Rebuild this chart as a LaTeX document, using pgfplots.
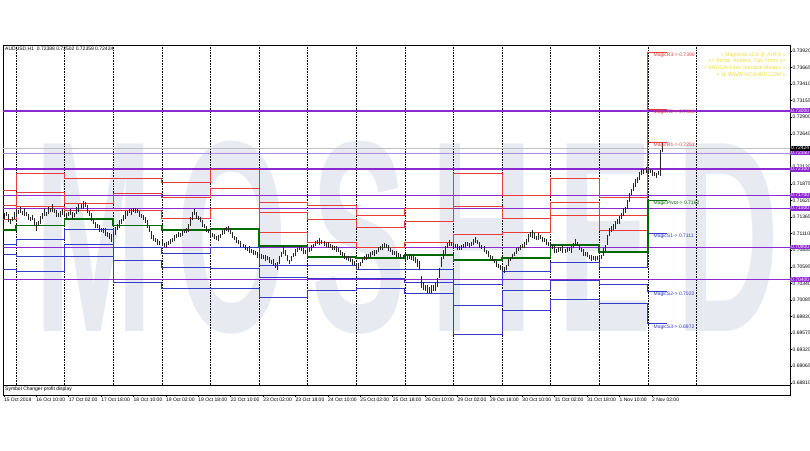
\documentclass[border=0pt]{standalone}
\usepackage{pgfplots}
\pgfplotsset{compat=1.18}
\usepackage{pgfplotstable}
\usepackage{graphicx}
\usepackage{fontspec}
\setmainfont{Liberation Sans}

\definecolor{rline}{RGB}{232,60,60}
\definecolor{sline}{RGB}{50,60,200}
\definecolor{pivg}{RGB}{0,105,0}
\definecolor{purp}{RGB}{140,40,210}
\definecolor{lav}{RGB}{175,140,225}
\definecolor{wmark}{RGB}{232,234,242}
\definecolor{yel}{RGB}{238,222,60}
\newcommand\tf{\fontsize{5}{6}\selectfont}

% daily pivot levels (start bar of each day, bars counted in hours from 16 Oct 00:00)
\pgfplotstableread{
b R3 R2 R1 P S1 S2 S3
-8 0.7178 0.7155 0.7132 0.7116 0.7095 0.7079 0.7056
0 0.7204 0.7175 0.7152 0.7123 0.7102 0.7075 0.7052
24 0.7196 0.7158 0.7147 0.7133 0.7118 0.7095 0.7076
48 0.7196 0.7173 0.7147 0.7123 0.7090 0.7070 0.7035
72 0.7189 0.7166 0.7135 0.7116 0.7081 0.7059 0.7027
96 0.7209 0.7181 0.7150 0.7118 0.7089 0.7058 0.7027
120 0.7159 0.7143 0.7112 0.7092 0.7062 0.7044 0.7013
144 0.7155 0.7132 0.7098 0.7075 0.7062 0.7042 0.7024
168 0.7139 0.7121 0.7090 0.7073 0.7055 0.7042 0.7027
192 0.7150 0.7129 0.7098 0.7078 0.7055 0.7036 0.7019
216 0.7204 0.7152 0.7109 0.7070 0.7032 0.7001 0.6955
240 0.7170 0.7135 0.7113 0.7073 0.7052 0.7024 0.6993
264 0.7196 0.7159 0.7139 0.7093 0.7066 0.7039 0.7009
288 0.7166 0.7139 0.7116 0.7082 0.7059 0.7032 0.7004
312 0.7390 0.7302 0.7251 0.7162 0.7111 0.7022 0.6972
321.5 0.7390 0.7302 0.7251 0.7162 0.7111 0.7022 0.6972
}\piv

% H1 bars: bar, low, high
\pgfplotstableread{
b lo hi
-6 0.7133 0.7143
-5 0.7138 0.7144
-4 0.7129 0.7141
-3 0.7126 0.7134
-2 0.7130 0.7136
-1 0.7134 0.7144
0 0.7136 0.7148
1 0.7141 0.7147
2 0.7142 0.7152
3 0.7139 0.7145
4 0.7138 0.7150
5 0.7138 0.7144
6 0.7131 0.7141
7 0.7130 0.7136
8 0.7131 0.7139
9 0.7123 0.7135
10 0.7115 0.7129
11 0.7122 0.7130
12 0.7126 0.7138
13 0.7134 0.7142
14 0.7138 0.7150
15 0.7138 0.7144
16 0.7141 0.7151
17 0.7144 0.7150
18 0.7144 0.7156
19 0.7143 0.7149
20 0.7137 0.7147
21 0.7136 0.7142
22 0.7137 0.7145
23 0.7139 0.7149
24 0.7139 0.7145
25 0.7133 0.7143
26 0.7138 0.7144
27 0.7140 0.7148
28 0.7134 0.7144
29 0.7136 0.7142
30 0.7141 0.7151
31 0.7144 0.7156
32 0.7148 0.7156
33 0.7149 0.7161
34 0.7151 0.7159
35 0.7143 0.7155
36 0.7138 0.7146
37 0.7130 0.7142
38 0.7126 0.7134
39 0.7119 0.7129
40 0.7119 0.7125
41 0.7114 0.7124
42 0.7113 0.7119
43 0.7111 0.7119
44 0.7107 0.7119
45 0.7106 0.7114
46 0.7102 0.7112
47 0.7098 0.7110
48 0.7105 0.7113
49 0.7109 0.7121
50 0.7117 0.7125
51 0.7120 0.7132
52 0.7126 0.7134
53 0.7130 0.7140
54 0.7133 0.7145
55 0.7138 0.7146
56 0.7143 0.7149
57 0.7139 0.7149
58 0.7144 0.7150
59 0.7142 0.7150
60 0.7143 0.7149
61 0.7136 0.7146
62 0.7135 0.7141
63 0.7131 0.7139
64 0.7127 0.7137
65 0.7120 0.7132
66 0.7114 0.7122
67 0.7103 0.7115
68 0.7100 0.7108
69 0.7098 0.7104
70 0.7093 0.7103
71 0.7093 0.7099
72 0.7091 0.7099
73 0.7090 0.7096
74 0.7088 0.7098
75 0.7093 0.7099
76 0.7095 0.7103
77 0.7098 0.7104
78 0.7099 0.7109
79 0.7104 0.7110
80 0.7105 0.7113
81 0.7106 0.7112
82 0.7107 0.7117
83 0.7112 0.7118
84 0.7112 0.7120
85 0.7113 0.7125
86 0.7122 0.7136
87 0.7132 0.7144
88 0.7140 0.7148
89 0.7134 0.7144
90 0.7132 0.7138
91 0.7128 0.7136
92 0.7121 0.7131
93 0.7119 0.7125
94 0.7114 0.7122
95 0.7112 0.7118
96 0.7107 0.7117
97 0.7106 0.7112
98 0.7102 0.7110
99 0.7101 0.7107
100 0.7099 0.7109
101 0.7104 0.7110
102 0.7108 0.7116
103 0.7110 0.7120
104 0.7115 0.7121
105 0.7114 0.7122
106 0.7110 0.7116
107 0.7104 0.7114
108 0.7101 0.7107
109 0.7097 0.7105
110 0.7095 0.7101
111 0.7090 0.7100
112 0.7089 0.7095
113 0.7086 0.7094
114 0.7084 0.7090
115 0.7081 0.7091
116 0.7081 0.7087
117 0.7078 0.7086
118 0.7078 0.7084
119 0.7073 0.7083
120 0.7073 0.7079
121 0.7071 0.7079
122 0.7072 0.7078
123 0.7068 0.7078
124 0.7070 0.7076
125 0.7066 0.7074
126 0.7064 0.7070
127 0.7061 0.7071
128 0.7058 0.7066
129 0.7055 0.7067
130 0.7064 0.7076
131 0.7075 0.7083
132 0.7080 0.7092
133 0.7077 0.7085
134 0.7068 0.7078
135 0.7064 0.7070
136 0.7068 0.7076
137 0.7075 0.7081
138 0.7077 0.7087
139 0.7083 0.7089
140 0.7085 0.7093
141 0.7084 0.7090
142 0.7079 0.7089
143 0.7079 0.7085
144 0.7082 0.7090
145 0.7083 0.7089
146 0.7084 0.7094
147 0.7089 0.7095
148 0.7092 0.7100
149 0.7095 0.7101
150 0.7094 0.7104
151 0.7095 0.7101
152 0.7091 0.7099
153 0.7090 0.7096
154 0.7088 0.7098
155 0.7089 0.7095
156 0.7086 0.7094
157 0.7086 0.7092
158 0.7082 0.7092
159 0.7083 0.7089
160 0.7078 0.7086
161 0.7076 0.7082
162 0.7071 0.7081
163 0.7070 0.7076
164 0.7068 0.7076
165 0.7067 0.7073
166 0.7062 0.7072
167 0.7063 0.7069
168 0.7058 0.7066
169 0.7056 0.7066
170 0.7061 0.7067
171 0.7065 0.7073
172 0.7070 0.7076
173 0.7070 0.7080
174 0.7073 0.7079
175 0.7075 0.7083
176 0.7078 0.7084
177 0.7076 0.7086
178 0.7079 0.7085
179 0.7082 0.7090
180 0.7086 0.7092
181 0.7085 0.7095
182 0.7089 0.7097
183 0.7089 0.7095
184 0.7084 0.7094
185 0.7083 0.7089
186 0.7078 0.7086
187 0.7078 0.7084
188 0.7074 0.7084
189 0.7075 0.7081
190 0.7072 0.7080
191 0.7072 0.7078
192 0.7068 0.7078
193 0.7070 0.7076
194 0.7071 0.7079
195 0.7070 0.7076
196 0.7068 0.7078
197 0.7066 0.7074
198 0.7060 0.7072
199 0.7054 0.7068
200 0.7027 0.7045
201 0.7024 0.7036
202 0.7023 0.7031
203 0.7019 0.7031
204 0.7020 0.7028
205 0.7019 0.7031
206 0.7023 0.7031
207 0.7022 0.7034
208 0.7029 0.7043
209 0.7042 0.7058
210 0.7059 0.7075
211 0.7071 0.7085
212 0.7080 0.7092
213 0.7088 0.7096
214 0.7091 0.7101
215 0.7092 0.7098
216 0.7089 0.7097
217 0.7089 0.7095
218 0.7085 0.7095
219 0.7086 0.7092
220 0.7086 0.7094
221 0.7089 0.7095
222 0.7088 0.7098
223 0.7092 0.7098
224 0.7089 0.7097
225 0.7092 0.7098
226 0.7093 0.7103
227 0.7097 0.7105
228 0.7095 0.7101
229 0.7088 0.7098
230 0.7087 0.7093
231 0.7083 0.7091
232 0.7079 0.7085
233 0.7074 0.7084
234 0.7072 0.7078
235 0.7068 0.7076
236 0.7066 0.7072
237 0.7059 0.7069
238 0.7058 0.7064
239 0.7054 0.7062
240 0.7053 0.7059
241 0.7050 0.7060
242 0.7055 0.7063
243 0.7061 0.7071
244 0.7069 0.7075
245 0.7071 0.7079
246 0.7076 0.7082
247 0.7079 0.7089
248 0.7084 0.7090
249 0.7086 0.7094
250 0.7089 0.7095
251 0.7088 0.7098
252 0.7094 0.7102
253 0.7098 0.7110
254 0.7105 0.7113
255 0.7104 0.7116
256 0.7103 0.7111
257 0.7101 0.7107
258 0.7101 0.7111
259 0.7103 0.7109
260 0.7098 0.7106
261 0.7098 0.7104
262 0.7093 0.7103
263 0.7092 0.7098
264 0.7089 0.7097
265 0.7087 0.7093
266 0.7081 0.7091
267 0.7081 0.7087
268 0.7082 0.7090
269 0.7084 0.7090
270 0.7081 0.7091
271 0.7081 0.7087
272 0.7082 0.7090
273 0.7084 0.7090
274 0.7081 0.7091
275 0.7088 0.7096
276 0.7093 0.7103
277 0.7092 0.7098
278 0.7086 0.7094
279 0.7083 0.7089
280 0.7077 0.7087
281 0.7076 0.7082
282 0.7074 0.7082
283 0.7072 0.7078
284 0.7068 0.7078
285 0.7070 0.7076
286 0.7068 0.7076
287 0.7070 0.7076
288 0.7068 0.7078
289 0.7072 0.7078
290 0.7076 0.7088
291 0.7084 0.7094
292 0.7094 0.7108
293 0.7107 0.7119
294 0.7114 0.7122
295 0.7116 0.7126
296 0.7118 0.7130
297 0.7125 0.7133
298 0.7126 0.7138
299 0.7133 0.7143
300 0.7138 0.7150
301 0.7143 0.7151
302 0.7148 0.7162
303 0.7160 0.7174
304 0.7170 0.7180
305 0.7177 0.7189
306 0.7183 0.7195
307 0.7188 0.7198
308 0.7193 0.7205
309 0.7201 0.7211
310 0.7203 0.7211
311 0.7204 0.7213
312 0.7202 0.7210
313 0.7204 0.7210
314 0.7199 0.7209
315 0.7200 0.7206
316 0.7196 0.7204
317 0.7201 0.7207
318 0.7200 0.7240
319 0.72359 0.72502
}\bars

\begin{document}
\begin{tikzpicture}
\fill[white] (0,0) rectangle (810pt,450pt);
\path[use as bounding box] (0,0) rectangle (810pt,450pt);

% watermark
\node[text=wmark, inner sep=0pt] at (407pt,212pt)
  {\resizebox{745pt}{190pt}{\bfseries M\,O\,S\,H\,E\,D}};

% main price window
\begin{axis}[
  at={(3pt,65pt)}, anchor=south west,
  scale only axis, width=787pt, height=340pt,
  xmin=-6.42, xmax=382.2, ymin=0.687764, ymax=0.740124,
  axis line style={black, line width=0.8pt},
  clip mode=individual,
  xtick=\empty,
  ytick pos=right, yticklabel pos=right,
  tick align=outside, major tick length=2pt,
  tick style={black, line width=0.5pt},
  ytick={0.73920,0.73665,0.73410,0.73155,0.72900,0.72640,0.72385,0.72130,0.71875,0.71620,0.71365,0.71110,0.70855,0.70595,0.70340,0.70085,0.69830,0.69575,0.69320,0.69065,0.68810},
  yticklabels={0.73920,0.73665,0.73410,0.73155,0.72900,0.72640,0.72385,0.72130,0.71875,0.71620,0.71365,0.71110,0.70855,0.70595,0.70340,0.70085,0.69830,0.69575,0.69320,0.69065,0.68810},
  yticklabel style={font=\tf, anchor=west, inner sep=0.5pt},
]
% day separators
\pgfplotsinvokeforeach{0,24,...,336}{
  \draw[black, densely dotted, line width=0.6pt] (axis cs:#1,0.687764) -- (axis cs:#1,0.740124);
}
% round-number levels
\addplot[purp, line width=1.6pt] coordinates {(-7,0.73) (383,0.73)};
\addplot[black!25, line width=0.6pt] coordinates {(-7,0.72424) (383,0.72424)};
\addplot[lav, line width=0.8pt] coordinates {(-7,0.7235) (383,0.7235)};
\addplot[purp, line width=1.6pt] coordinates {(-7,0.721) (383,0.721)};
\addplot[purp, line width=1.1pt] coordinates {(-7,0.717) (383,0.717)};
\addplot[purp, line width=1.1pt] coordinates {(-7,0.715) (383,0.715)};
\addplot[purp, line width=1.1pt] coordinates {(-7,0.709) (383,0.709)};
\addplot[purp, line width=1.1pt] coordinates {(-7,0.704) (383,0.704)};

% daily pivots
\addplot[const plot, rline, line width=0.7pt] table[x=b, y=R3] {\piv};
\addplot[const plot, rline, line width=0.7pt] table[x=b, y=R2] {\piv};
\addplot[const plot, rline, line width=0.7pt] table[x=b, y=R1] {\piv};
\addplot[const plot, sline, line width=0.7pt] table[x=b, y=S1] {\piv};
\addplot[const plot, sline, line width=0.7pt] table[x=b, y=S2] {\piv};
\addplot[const plot, sline, line width=0.7pt] table[x=b, y=S3] {\piv};
\addplot[const plot, pivg, line width=1.6pt] table[x=b, y=P] {\piv};

% price bars, low to high
\addplot[black!85, line width=0.6pt, quiver={u=0, v=\thisrow{hi}-\thisrow{lo}}]
  table[x=b, y=lo] {\bars};

% pivot labels
\node[anchor=north west, text=rline, font=\tf, inner sep=0.5pt] at (axis cs:314.5,0.7390) {MagicR3-> 0.7390};
\node[anchor=north west, text=rline, font=\tf, inner sep=0.5pt] at (axis cs:314.5,0.7302) {MagicR2-> 0.7302};
\node[anchor=north west, text=rline, font=\tf, inner sep=0.5pt] at (axis cs:314.5,0.7251) {MagicR1-> 0.7251};
\node[anchor=north west, text=pivg, font=\tf, inner sep=0.5pt] at (axis cs:314.5,0.7162) {MagicPivot-> 0.7162};
\node[anchor=north west, text=sline, font=\tf, inner sep=0.5pt] at (axis cs:314.5,0.7111) {MagicS1-> 0.7111};
\node[anchor=north west, text=sline, font=\tf, inner sep=0.5pt] at (axis cs:314.5,0.7022) {MagicS2-> 0.7022};
\node[anchor=north west, text=sline, font=\tf, inner sep=0.5pt] at (axis cs:314.5,0.6972) {MagicS3-> 0.6972};

% price boxes on the scale
\pgfplotsinvokeforeach{0.73000,0.72350,0.72100,0.71700,0.71500,0.70900,0.70400}{
  \node[anchor=west, fill=purp, text=white, font=\tf, inner sep=0.6pt, minimum width=20pt] at (axis cs:382.2,#1) {#1};
}
\node[anchor=west, fill=black, text=white, font=\tf, inner sep=0.6pt, minimum width=20pt] at (axis cs:382.2,0.72424) {0.72424};
\end{axis}

% indicator sub-window with the time scale
\begin{axis}[
  at={(3pt,55pt)}, anchor=south west,
  scale only axis, width=787pt, height=10pt,
  xmin=-6.42, xmax=382.2, ymin=0, ymax=1,
  axis line style={black, line width=0.8pt},
  ytick=\empty,
  xtick pos=bottom, tick align=outside, major tick length=2pt,
  tick style={black, line width=0.5pt},
  xtick={-6,10,26,42,58,74,90,106,122,138,154,170,186,202,218,234,250,266,282,298,314},
  xticklabels={15 Oct 2018,16 Oct 10:00,17 Oct 02:00,17 Oct 18:00,18 Oct 10:00,19 Oct 02:00,19 Oct 18:00,22 Oct 10:00,23 Oct 02:00,23 Oct 18:00,24 Oct 10:00,25 Oct 02:00,25 Oct 18:00,26 Oct 10:00,29 Oct 02:00,29 Oct 18:00,30 Oct 10:00,31 Oct 02:00,31 Oct 18:00,1 Nov 10:00,2 Nov 02:00},
  xticklabel style={font=\tf, anchor=north west, inner sep=0.5pt, xshift=-0.5pt},
]
\end{axis}
\node[anchor=west, font=\tf, inner sep=0pt] at (5pt,61pt) {Symbol Changer profit display};

% header and info text
\node[anchor=west, font=\tf, inner sep=0pt] at (5pt,401pt) {AUDUSD,H1\ \ 0.72388 0.72502 0.72359 0.72424};
\node[anchor=north east, align=right, text=yel, font=\fontsize{5.3}{6.8}\selectfont, inner sep=0pt] at (786pt,398pt)
  {\textless\textless\ Magicline v2.8 @ AHFS \textgreater\textgreater\\
   \textless\textless\textless\ Berita, Analisa, Tips Forex \textgreater\textgreater\textgreater\\
   = ANGGAH dan Sahabat Melayu =\\
   \textless\textless\ @ WWW.MOSHED.COM \textless\textless};
\end{tikzpicture}
\end{document}
